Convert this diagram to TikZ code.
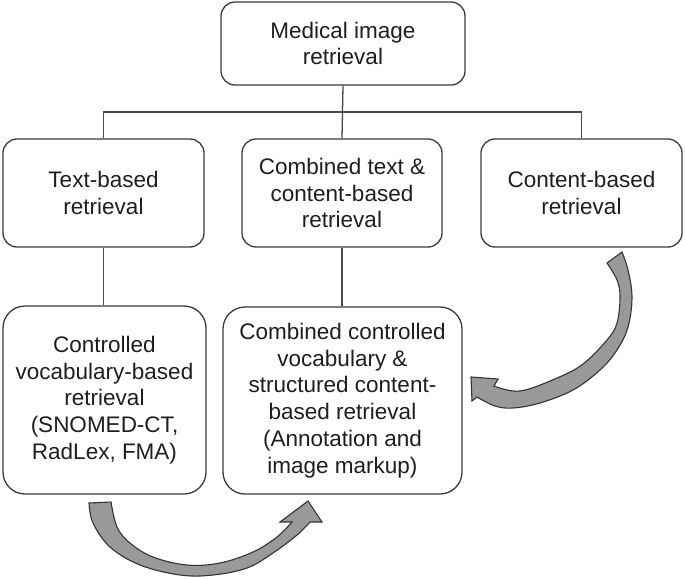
\documentclass[tikz,border=0pt]{standalone}
\usepackage{fontspec}
\setmainfont{Liberation Sans}
\definecolor{boxline}{HTML}{3A3A3A}
\definecolor{connline}{HTML}{4A4A4A}
\definecolor{arrowfill}{HTML}{999999}
\definecolor{arrowline}{HTML}{333333}
\definecolor{txt}{HTML}{1E1E1E}
\begin{document}
\begin{tikzpicture}[x=1pt,y=-1pt,
  box/.style={draw=boxline, line width=1.3pt, rounded corners=14pt, inner sep=0pt,
    align=center, text=txt, font=\fontsize{22.5}{26.7}\selectfont},
  bigbox/.style={box, rounded corners=22pt},
  conn/.style={draw=connline, line width=1.3pt},
  bentarrow/.style={fill=arrowfill, draw=arrowline, line width=1.1pt, line join=miter}]
\useasboundingbox (0,0) rectangle (685,578);

\node[box, minimum width=244pt, minimum height=83pt] (top) at (343,43.5) {Medical image\\retrieval};
\node[box, minimum width=201pt, minimum height=108pt] (left) at (103.5,193) {Text-based\\retrieval};
\node[box, minimum width=200pt, minimum height=108pt] (mid) at (342,193) {Combined text \&\\content-based\\retrieval};
\node[box, minimum width=201pt, minimum height=108pt] (right) at (581.5,193) {Content-based\\retrieval};
\node[bigbox, minimum width=203pt, minimum height=188pt] (bleft) at (104.5,400) {Controlled\\vocabulary-based\\retrieval\\(SNOMED-CT,\\RadLex, FMA)};
\node[bigbox, minimum width=239pt, minimum height=187pt] (bmid) at (342.5,400.5) {Combined controlled\\vocabulary \&\\structured content-\\based retrieval\\(Annotation and\\image markup)};

\coordinate (bus) at (343,112);
\draw[conn] (top.south) -- (mid.north);
\draw[conn] (left.north) |- (bus) -| (right.north);
\draw[conn] (left.south) -- (left.south |- bleft.north);
\draw[conn] (mid.south) -- (mid.south |- bmid.north);

% curved arrow from right box to bottom middle box
\path[bentarrow] (622,252)
  -- plot[smooth, tension=0.6] coordinates {(622,252) (628,270) (632,297) (628,327) (617,350) (600,370) (573,390) (540,403) (513,408) (495,406) (477,397)}
  -- (472,401) -- (471,377) -- (498,379) -- (494,386)
  -- plot[smooth, tension=0.6] coordinates {(494,386) (520,391) (557,378) (583,364) (607,340) (617,323) (620,297) (617,280) (607,263)}
  -- cycle;

% curved arrow from bottom left box to bottom middle box
\path[bentarrow] (89,503)
  -- plot[smooth, tension=0.6] coordinates {(89,503) (93,523) (110,547) (140,565) (180,575) (213,575) (247,568) (273,553) (297,535) (310,522)}
  -- (322,522) -- (308,501) -- (280,522) -- (292,522)
  -- plot[smooth, tension=0.6] coordinates {(292,522) (277,537) (253,552) (220,563) (187,565) (153,557) (130,543) (117,527) (111,502)}
  -- cycle;
\end{tikzpicture}
\end{document}
